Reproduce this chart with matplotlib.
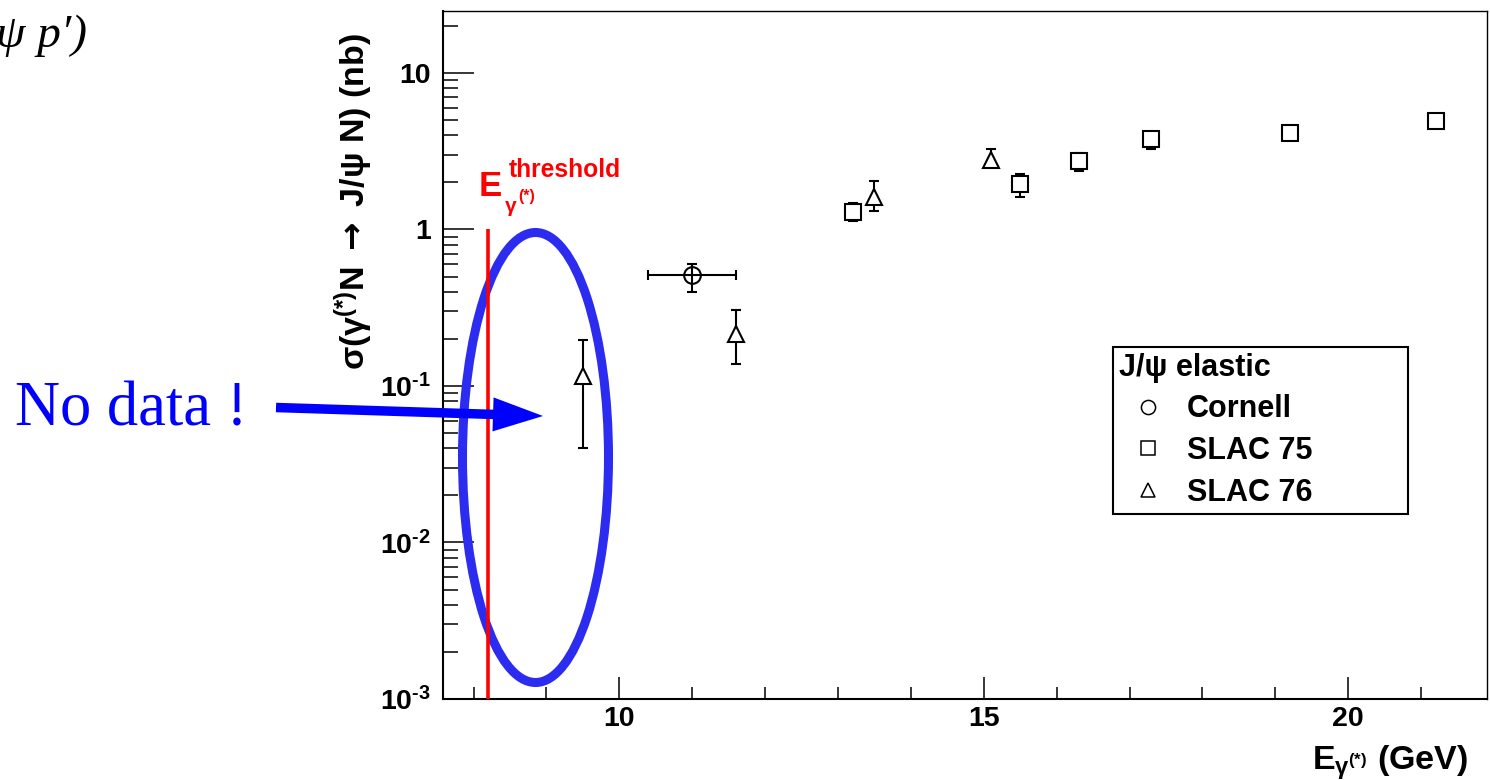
import numpy as np
import matplotlib
matplotlib.use('Agg')
import matplotlib.pyplot as plt
from matplotlib.transforms import Affine2D
from matplotlib.patches import Ellipse, FancyArrow
from matplotlib.ticker import FixedLocator, MultipleLocator, LogLocator, NullFormatter, FuncFormatter

plt.rcParams['font.family'] = ['Liberation Sans', 'DejaVu Sans']
plt.rcParams['font.weight'] = 'bold'
plt.rcParams['mathtext.fontset'] = 'custom'
plt.rcParams['mathtext.rm'] = 'Liberation Sans:bold'
plt.rcParams['mathtext.bf'] = 'Liberation Sans:bold'
plt.rcParams['mathtext.it'] = 'Liberation Sans:italic:bold'
plt.rcParams['mathtext.sf'] = 'DejaVu Sans'
plt.rcParams['mathtext.default'] = 'rm'

# ---------------- data ----------------
cornell_E = [11.0]
cornell_E_err = [0.60]
cornell_sigma = [0.51]
cornell_lo = [0.11]
cornell_hi = [0.09]

slac75_E = [13.2, 15.5, 16.3, 17.3, 19.2, 21.2]
slac75_sigma = [1.30, 1.96, 2.74, 3.76, 4.14, 4.92]
slac75_lo = [0.17, 0.35, 0.36, 0.49, 0.30, 0.30]
slac75_hi = [0.17, 0.31, 0.36, 0.30, 0.30, 0.30]

slac76_E = [9.5, 11.6, 13.5, 15.1]
slac76_sigma = [0.116, 0.214, 1.61, 2.80]
slac76_lo = [0.076, 0.076, 0.30, 0.30]
slac76_hi = [0.080, 0.091, 0.42, 0.46]

threshold_E = 8.2
legend_labels = ['Cornell', 'SLAC 75', 'SLAC 76']
legend_title = 'J/ψ elastic'

# ---------------- figure ----------------
W, H = 1490, 780
fig = plt.figure(figsize=(W / 100, H / 100), dpi=100)
pix = Affine2D().scale(1 / W, -1 / H).translate(0, 1) + fig.transFigure

L, R, T, B = 443.3, 1486.7, 10.7, 699.0
ax = fig.add_axes([L / W, 1 - B / H, (R - L) / W, (B - T) / H])
ax.set_yscale('log')
ax.set_xlim(7.585, 21.9)
ax.set_ylim(1e-3, 25)

ax.xaxis.set_major_locator(FixedLocator([10, 15, 20]))
ax.xaxis.set_minor_locator(MultipleLocator(1))
ax.yaxis.set_major_locator(LogLocator(base=10, numticks=10))
ax.yaxis.set_minor_locator(LogLocator(base=10, subs=np.arange(2, 10), numticks=20))
ax.yaxis.set_minor_formatter(NullFormatter())


def yfmt(v, pos):
    e = int(round(np.log10(v)))
    if e == 0:
        return '1'
    if e == 1:
        return '10'
    return r'$10^{\text{-%d}}$' % abs(e)


ax.yaxis.set_major_formatter(FuncFormatter(yfmt))
ax.tick_params(axis='y', which='major', direction='in', length=22, width=1.1, labelsize=20.5, pad=9)
ax.tick_params(axis='y', which='minor', direction='in', length=11, width=1.1)
ax.tick_params(axis='x', which='major', direction='in', length=16, width=1.1, labelsize=20.5, pad=5)
ax.tick_params(axis='x', which='minor', direction='in', length=8.6, width=1.1)
for s in ['left', 'bottom']:
    ax.spines[s].set_linewidth(1.5)
for s in ['top', 'right']:
    ax.spines[s].set_linewidth(1.0)

# threshold line
ax.vlines(threshold_E, 1e-3, 1, color='#ff0000', lw=2.6, zorder=3)

common = dict(ms=12, mec='black', mew=1.5, ecolor='black', elinewidth=1.5,
              capsize=3.6, capthick=1.5, zorder=4)
c_cor = ax.errorbar(cornell_E, cornell_sigma, xerr=cornell_E_err,
                    yerr=[cornell_lo, cornell_hi], fmt='o', mfc='none', **common)
c_75 = ax.errorbar(slac75_E, slac75_sigma, yerr=[slac75_lo, slac75_hi],
                   fmt='s', mfc='white', **common)
c_76 = ax.errorbar(slac76_E, slac76_sigma, yerr=[slac76_lo, slac76_hi],
                   fmt='^', mfc='white', **common)

leg = ax.legend([c_cor[0], c_75[0], c_76[0]], legend_labels, title=legend_title,
                loc='upper left', bbox_to_anchor=(1112.7, 346.7, 295.6, 163.3),
                bbox_transform=pix, mode='expand', alignment='left',
                fontsize=22, title_fontsize=22, frameon=True, fancybox=False,
                edgecolor='black', framealpha=1, markerscale=0.85,
                borderaxespad=0, borderpad=0.2, handlelength=1.9,
                handletextpad=0.32, labelspacing=0.38)
leg.get_frame().set_linewidth(1.5)
for h in leg.legend_handles:
    h.set_markeredgewidth(1.1)
leg.set_zorder(6)

# axis titles
fig.text(1468, 770, r'E$_{\gamma^{(*)}}$ (GeV)', transform=pix, ha='right',
         va='baseline', fontsize=24.5)
fig.text(354, 33, r'σ(γ$^{(*)}$N $\mathsf{\rightarrow}$ J/ψ N) (nb)',
         transform=pix, rotation=90, ha='center', va='top', fontsize=24.5)

# threshold label (E with super- and subscript)
red = '#ff0000'
fig.text(479, 196, 'E', transform=pix, color=red, fontsize=25, ha='left', va='baseline')
fig.text(509, 177, 'threshold', transform=pix, color=red, fontsize=17.7, ha='left', va='baseline')
fig.text(505, 212, 'γ', transform=pix, color=red, fontsize=15, ha='left', va='baseline')
fig.text(518, 201, '(*)', transform=pix, color=red, fontsize=11.5, ha='left', va='baseline')

# annotations
blue = '#2c2cf0'
ell = Ellipse((535.5, 457.5), 146, 450, transform=pix, fill=False, ec=blue,
              lw=6.5, zorder=2.5, clip_on=False)
ax.add_patch(ell)
arr = FancyArrow(276, 407.5, 543 - 276, 416 - 407.5, width=9.5, head_width=34,
                 head_length=50, length_includes_head=True, transform=pix,
                 color='#0000ff', lw=0, zorder=8)
fig.add_artist(arr)
fig.text(15, 425, 'No data !', transform=pix, fontsize=45, color='#0000ff',
         family=['Liberation Serif', 'DejaVu Serif'], weight='normal',
         ha='left', va='baseline')
fig.text(87, 47, 'ψ p′)', transform=pix, fontsize=34, color='black',
         family=['Liberation Serif', 'DejaVu Serif'], weight='normal',
         style='italic', ha='right', va='baseline')

fig.savefig('out.png', dpi=100)
